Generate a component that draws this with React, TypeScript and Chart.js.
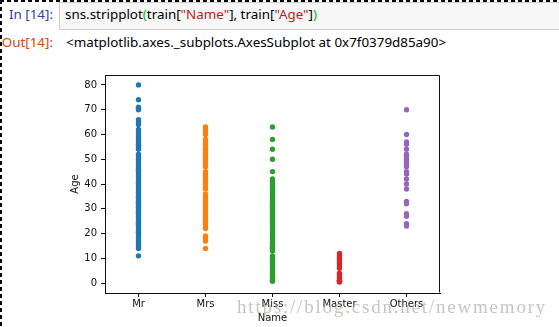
import React, { useEffect, useRef } from "react";
import { Chart, registerables } from "chart.js";

Chart.register(...registerables);

const categories = ["Mr", "Mrs", "Miss", "Master", "Others"];
const seriesColors = ["#1f77b4", "#ff7f0e", "#2ca02c", "#d62728", "#9467bd"];

const mrAges = [11, 14, 15, 16, 17, 18, 19, 20, 20.5, 21, 22, 23, 23.5, 24, 24.5, 25, 26, 27, 28, 28.5, 29, 30, 30.5, 31, 32, 32.5, 33, 34, 34.5, 35, 36, 36.5, 37, 38, 39, 40, 40.5, 41, 42, 43, 44, 45, 45.5, 46, 47, 48, 49, 50, 51, 52, 54, 55, 55.5, 56, 57, 58, 59, 60, 61, 62, 64, 65, 66, 70, 70.5, 71, 74, 80];
const mrsAges = [14, 17, 18, 19, 22, 23, 24, 25, 26, 27, 28, 29, 30, 31, 32, 33, 34, 35, 36, 38, 39, 40, 41, 42, 43, 44, 45, 47, 48, 49, 50, 51, 52, 53, 54, 55, 56, 57, 58, 60, 61, 62, 63];
const missAges = [0.75, 1, 2, 3, 4, 5, 6, 7, 8, 9, 10, 11, 13, 14, 14.5, 15, 16, 17, 18, 19, 20, 21, 22, 23, 24, 25, 26, 27, 28, 29, 30, 30.5, 31, 32, 33, 34, 35, 36, 37, 38, 39, 40, 41, 42, 45, 50, 54, 58, 63];
const masterAges = [0.42, 0.67, 0.83, 0.92, 1, 2, 3, 4, 6, 7, 8, 9, 10, 11, 12];
const othersAges = [23, 24, 27, 28, 32, 33, 38, 40, 42, 44, 45, 47, 48, 49, 50, 51, 52, 54, 56, 57, 60, 70];

const ageSeries = [mrAges, mrsAges, missAges, masterAges, othersAges];
const yTicks = [0, 10, 20, 30, 40, 50, 60, 70, 80];
const xTicks = [0, 1, 2, 3, 4];

const framePlugin = {
  id: "frame",
  afterDraw(chart: any) {
    const { ctx, chartArea: a } = chart;
    ctx.save();
    ctx.strokeStyle = "#111";
    ctx.lineWidth = 1;
    const l = Math.round(a.left) + 0.5;
    const r = Math.round(a.right) - 0.5;
    const t = Math.round(a.top) + 0.5;
    const b = Math.round(a.bottom) - 0.5;
    ctx.beginPath();
    ctx.moveTo(l, t);
    ctx.lineTo(r, t);
    ctx.lineTo(r, b);
    ctx.stroke();
    ctx.restore();
  },
};

const noteFont = "'Noto Sans', 'Open Sans', sans-serif";
const noteSize = 13.4;

export default function App() {
  const canvasRef = useRef<HTMLCanvasElement | null>(null);

  useEffect(() => {
    const canvas = canvasRef.current;
    if (!canvas) return;
    const tickFont = { family: "DejaVu Sans", size: 10 };
    const chart = new Chart(canvas, {
      type: "scatter",
      data: {
        datasets: ageSeries.map((ages, i) => ({
          label: categories[i],
          data: ages.map((a) => ({ x: i, y: a })),
          backgroundColor: seriesColors[i],
          borderWidth: 0,
          pointRadius: 2.7,
          pointHoverRadius: 2.7,
        })),
      },
      options: {
        animation: false,
        responsive: false,
        events: [],
        layout: { padding: { left: 60, top: 75, right: 119, bottom: 0 } },
        plugins: { legend: { display: false }, tooltip: { enabled: false } },
        scales: {
          x: {
            type: "linear",
            min: -0.5,
            max: 4.5,
            afterBuildTicks: (s: any) => {
              s.ticks = xTicks.map((v) => ({ value: v }));
            },
            afterFit: (s: any) => {
              s.height = 34;
            },
            grid: { drawOnChartArea: false, drawTicks: true, tickLength: 4, color: "#111", lineWidth: 1 },
            border: { display: true, color: "#111", width: 1 },
            ticks: {
              font: tickFont,
              color: "#111",
              padding: 1,
              maxRotation: 0,
              autoSkip: false,
              callback: (_v: any, idx: number) => categories[idx],
            },
            title: { display: true, text: "Name", font: tickFont, color: "#111", padding: { top: 0, bottom: 3 } },
          },
          y: {
            type: "linear",
            min: -4,
            max: 84,
            afterBuildTicks: (s: any) => {
              s.ticks = yTicks.map((v) => ({ value: v }));
            },
            afterFit: (s: any) => {
              s.width = 45;
            },
            grid: { drawOnChartArea: false, drawTicks: true, tickLength: 4, color: "#111", lineWidth: 1 },
            border: { display: true, color: "#111", width: 1 },
            ticks: { font: tickFont, color: "#111", padding: 4, autoSkip: false },
            title: { display: true, text: "Age", font: tickFont, color: "#111", padding: { top: 9, bottom: 0 } },
          },
        },
      },
      plugins: [framePlugin],
    } as any);
    return () => chart.destroy();
  }, []);

  const abs = (s: React.CSSProperties): React.CSSProperties => ({ position: "absolute", ...s });

  return (
    <div style={abs({ left: 0, top: 0, width: 559, height: 327, background: "#fff", overflow: "hidden" })}>
      <div
        style={abs({
          left: 59,
          top: 2,
          width: 499,
          height: 26,
          background: "#f7f7f7",
          border: "1px solid #cfcfcf",
        })}
      />
      <div style={abs({ left: 0, top: 0, width: 559, height: 2, background: "repeating-linear-gradient(to right, #000 0px, #000 4px, transparent 4px, transparent 7px)" })} />
      <div style={abs({ left: 0, top: 0, width: 2, height: 327, background: "repeating-linear-gradient(to bottom, #000 0px, #000 4px, transparent 4px, transparent 7px)" })} />
      <div style={abs({ right: 559 - 53, top: 5, fontFamily: noteFont, fontSize: noteSize, lineHeight: "19px", color: "#303F9F", whiteSpace: "pre" })}>In [14]:</div>
      <div style={abs({ left: 65, top: 5, fontFamily: noteFont, fontSize: noteSize, lineHeight: "19px", color: "#000", whiteSpace: "pre" })}>
        <span>sns.stripplot</span>
        <span style={{ color: "#00bb00" }}>(</span>
        <span>train[</span>
        <span style={{ color: "#BA2121" }}>"Name"</span>
        <span>], train[</span>
        <span style={{ color: "#BA2121" }}>"Age"</span>
        <span>]</span>
        <span style={{ color: "#00bb00" }}>)</span>
      </div>
      <div style={abs({ right: 559 - 53, top: 33, fontFamily: noteFont, fontSize: noteSize, lineHeight: "19px", color: "#D84315", whiteSpace: "pre" })}>Out[14]:</div>
      <div style={abs({ left: 66, top: 33, fontFamily: noteFont, fontSize: noteSize, lineHeight: "19px", color: "#000", whiteSpace: "pre" })}>
        {"<matplotlib.axes._subplots.AxesSubplot at 0x7f0379d85a90>"}
      </div>
      <canvas ref={canvasRef} width={559} height={327} style={abs({ left: 0, top: 0, width: 559, height: 327 })} />
      <div
        style={abs({
          left: 237,
          top: 297,
          fontFamily: "'Liberation Serif', serif",
          fontSize: 19,
          lineHeight: "19px",
          letterSpacing: "1.8px",
          color: "rgba(150,150,140,0.55)",
          whiteSpace: "pre",
          pointerEvents: "none",
        })}
      >
        https://blog.csdn.net/newmemory
      </div>
    </div>
  );
}
